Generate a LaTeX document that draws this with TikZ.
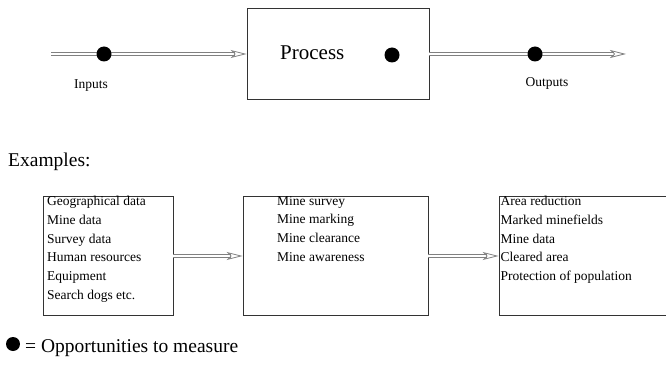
\documentclass[tikz,border=0pt]{standalone}
\usepackage{fontspec}
\setmainfont{Liberation Serif}
\usetikzlibrary{arrows.meta}

\begin{document}
\begin{tikzpicture}[x=1pt, y=-1pt,
    flow/.style={draw=black!50, line width=0.8pt, double=white, double distance=2.2pt,
      -{Stealth[open, length=16pt, width=8pt, inset=4pt]}},
    box/.style={draw=black!80, line width=0.9pt, inner sep=0pt},
    dot/.style={circle, fill=black, inner sep=0pt, minimum size=#1},
    dot/.default=15pt,
    small/.style={font=\fontsize{13.5}{18.8}\selectfont, inner sep=0pt},
    list/.style={small, align=left, anchor=north west}]
  \useasboundingbox (0,0) rectangle (666,374);
  % process model
  \node[box, minimum width=182pt, minimum height=91pt] (proc) at (338,54) {};
  \node[anchor=base west, inner sep=0pt, font=\fontsize{21}{24}\selectfont] (proclabel) at (280,60) {Process};
  \coordinate (instart) at (51,54);
  \coordinate (outend) at (626,54);
  \draw[flow] (instart) -- (instart -| proc.west);
  \draw[flow] (outend -| proc.east) -- (outend);
  \node[dot] (indot) at (104,54) {};
  \node[dot] (procdot) at (392,55) {};
  \node[dot] (outdot) at (535,54) {};
  \node[small, anchor=base] (inlabel) at (91,89) {Inputs};
  \node[small, anchor=base] (outlabel) at (547,87) {Outputs};
  % examples
  \node[anchor=base west, inner sep=0pt, font=\fontsize{19.5}{22}\selectfont] (exlabel) at (8,167) {Examples:};
  \node[box, minimum width=130pt, minimum height=119pt] (inbox) at (108,256) {};
  \node[box, minimum width=185pt, minimum height=119pt] (procbox) at (335.5,256) {};
  \node[box, minimum width=167pt, minimum height=119pt] (outbox) at (582.5,256) {};
  \node[list] (intext) at (47,196) {Geographical data\\Mine data\\Survey data\\Human resources\\Equipment\\Search dogs etc.};
  \node[list] (proctext) at (277,196) {Mine survey\\Mine marking\\Mine clearance\\Mine awareness};
  \node[list] (outtext) at (500.5,196) {Area reduction\\Marked minefields\\Mine data\\Cleared area\\Protection of population};
  \draw[flow] (inbox.east) -- (procbox.west);
  \draw[flow] (procbox.east) -- (outbox.west);
  % legend
  \node[dot=14pt] (legdot) at (13,344) {};
  \node[anchor=base west, inner sep=0pt, font=\fontsize{19.5}{22}\selectfont] (legtext) at (25,352) {= Opportunities to measure};
\end{tikzpicture}
\end{document}
